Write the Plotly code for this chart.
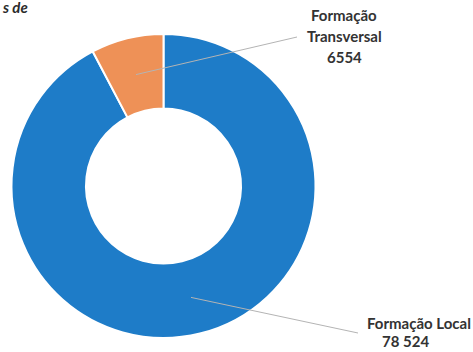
import math
import plotly.graph_objects as go

# Data (Local first: with counterclockwise direction plotly lays the first
# slice clockwise from 12 o'clock, which leaves Transversal just left of 12)
categories = ["Formação Local", "Formação Transversal"]
label_lines = [["Formação Local"], ["Formação", "Transversal"]]
values = [78524, 6554]
value_text = ["78 524", "6554"]
colors = ["#1E7CC8", "#EE9157"]

W, H = 473, 352
# donut geometry in pixels
cx, cy, R = 163.5, 186.0, 152.0
hole = 0.51

fig = go.Figure(go.Pie(
    labels=categories,
    values=values,
    hole=hole,
    sort=False,
    direction="counterclockwise",
    rotation=0,
    marker=dict(colors=colors, line=dict(color="white", width=2)),
    textinfo="none",
    hoverinfo="label+value",
    showlegend=False,
    domain=dict(x=[(cx - R) / W, (cx + R) / W],
                y=[1 - (cy + R) / H, 1 - (cy - R) / H]),
))

# mid-angle of each slice, measured counterclockwise from 12 o'clock
total = sum(values)
angles = {}
cum = 0.0
for i in reversed(range(len(values))):
    angles[i] = (cum + values[i] / 2) / total * 2 * math.pi
    cum += values[i]

label_pos = [  # (line end x, y, label center x, first line y) in pixels
    (358, 333, 419, 323),
    (297, 37, 344, 15),
]
shapes = []
annotations = []
text_font = dict(family="Lato", size=15, color="#333333")
r = R * (1 + hole) / 2
for i in range(len(values)):
    mid = angles[i]
    sx = cx - r * math.sin(mid)
    sy = cy - r * math.cos(mid)
    ex, ey, lx, ly = label_pos[i]
    shapes.append(dict(type="line", xref="paper", yref="paper",
                       x0=sx / W, y0=1 - sy / H, x1=ex / W, y1=1 - ey / H,
                       line=dict(color="#b4b4b4", width=1)))
    lines = label_lines[i] + [value_text[i]]
    step = 18 if len(lines) == 2 else 21
    for k, t in enumerate(lines):
        y = ly + k * step
        xx = 405 if (len(lines) == 2 and k == 1) else lx
        annotations.append(dict(text="<b>" + t + "</b>", xref="paper", yref="paper",
                                x=xx / W, y=1 - y / H, xanchor="center", yanchor="middle",
                                showarrow=False, font=text_font))

annotations.append(dict(text="<b><i>s de</i></b>", xref="paper", yref="paper",
                        x=0, y=1 - 7 / H, xanchor="left", yanchor="middle",
                        showarrow=False, font=dict(family="Lato", size=15, color="#2b2b2b")))

fig.update_layout(
    width=W, height=H,
    margin=dict(l=0, r=0, t=0, b=0),
    paper_bgcolor="white", plot_bgcolor="white",
    shapes=shapes, annotations=annotations,
)

fig.write_html("out.html")
